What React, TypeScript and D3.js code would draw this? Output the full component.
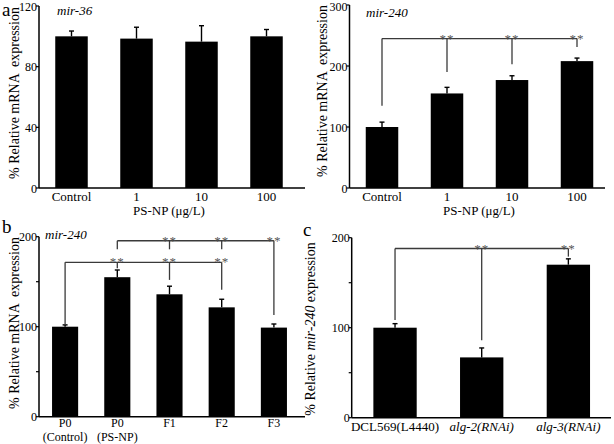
import React from "react";
import * as d3 from "d3";

// ---------- data ----------
const doseCategories = ["Control", "1", "10", "100"];
const mir36Values = [100, 98.5, 96.5, 100];
const mir36Errors = [3.5, 7.5, 10.5, 4.5];
const mir240DoseValues = [100, 155, 177, 208];
const mir240DoseErrors = [8, 10, 7, 5];

const generationCategories = [["P0", "(Control)"], ["P0", "(PS-NP)"], ["F1"], ["F2"], ["F3"]];
const mir240GenValues = [100, 155, 136, 121.5, 99];
const mir240GenErrors = [2, 8, 9, 9, 4];

const rnaiCategories = ["DCL569(L4440)", "alg-2(RNAi)", "alg-3(RNAi)"];
const rnaiItalic = [false, true, true];
const rnaiValues = [100, 67, 170];
const rnaiErrors = [4.5, 10.5, 6.5];

const ticksA1 = [0, 40, 80, 120];
const ticksA2 = [0, 100, 200, 300];
const ticksB = [0, 50, 100, 150, 200];
const tickLabelsB = [0, 100, 200];

// significance brackets: y level, drops (index, bottom value), star indices
const bracketsA2 = [
  { level: 245, drops: [[0, 135], [1, 190], [2, 203], [3, 231]], stars: [1, 2, 3] },
];
const bracketsB = [
  { level: 171.5, drops: [[0, 102], [1, 165], [2, 152], [3, 141]], stars: [1, 2, 3] },
  { level: 195.5, drops: [[1, 186], [2, 186], [3, 186], [4, 113]], stars: [2, 3, 4] },
];
const bracketsC = [
  { level: 188, drops: [[0, 108.5], [1, 86], [2, 179]], stars: [1, 2] },
];

const FONT = "Liberation Serif, Times New Roman, Times, serif";

type Bracket = { level: number; drops: number[][]; stars: number[] };

type PanelProps = {
  n: number;
  values: number[];
  errors: number[];
  xRange: [number, number];
  axisEnd: number;
  yRange: [number, number];
  yMax: number;
  ticks: number[];
  tickLabels: number[];
  brackets: Bracket[];
  renderXLabel: (i: number, cx: number, y0: number) => React.ReactNode;
};

function Panel(p: PanelProps) {
  const idx = d3.range(p.n).map(String);
  const x = d3.scaleBand().domain(idx).range(p.xRange).paddingInner(0.5).paddingOuter(0.25);
  const y = d3.scaleLinear().domain([0, p.yMax]).range(p.yRange);
  const x0 = p.xRange[0];
  const y0 = y(0);
  const cx = (i: number) => (x(String(i)) as number) + x.bandwidth() / 2;
  return (
    <g>
      {p.values.map((v, i) => (
        <rect key={"b" + i} x={x(String(i))} y={y(v)} width={x.bandwidth()} height={y0 - y(v)} fill="#000" />
      ))}
      {p.values.map((v, i) => (
        <g key={"e" + i} stroke="#000" strokeWidth={1.4}>
          <line x1={cx(i)} x2={cx(i)} y1={y(v)} y2={y(v + p.errors[i])} />
          <line x1={cx(i) - 2.5} x2={cx(i) + 2.5} y1={y(v + p.errors[i])} y2={y(v + p.errors[i])} />
        </g>
      ))}
      {p.brackets.map((b, k) => {
        const xs = b.drops.map((d) => cx(d[0]));
        return (
          <g key={"br" + k}>
            <line x1={d3.min(xs)} x2={d3.max(xs)} y1={y(b.level)} y2={y(b.level)} stroke="#3a3a3a" strokeWidth={1.3} />
            {b.drops.map((d, j) => (
              <line key={j} x1={cx(d[0])} x2={cx(d[0])} y1={y(b.level)} y2={y(d[1])} stroke="#3a3a3a" strokeWidth={1.3} />
            ))}
            {b.stars.map((s) => (
              <text key={"s" + s} x={cx(s)} y={y(b.level) + 4} textAnchor="middle" fontSize={13} fill="#555" style={{ fontFamily: FONT }} letterSpacing={1}>
                **
              </text>
            ))}
          </g>
        );
      })}
      <line x1={x0} x2={x0} y1={y0} y2={y(p.yMax)} stroke="#000" strokeWidth={1.5} />
      <line x1={x0} x2={p.axisEnd} y1={y0} y2={y0} stroke="#000" strokeWidth={1.5} />
      {p.ticks.map((t) => (
        <line key={"t" + t} x1={x0 - 3} x2={x0} y1={y(t)} y2={y(t)} stroke="#000" strokeWidth={1.2} />
      ))}
      {p.tickLabels.map((t) => (
        <text key={"tl" + t} x={x0 - 2} y={Math.max(y(t) + 4.5, 11)} textAnchor="end" fontSize={12} style={{ fontFamily: FONT }}>
          {t}
        </text>
      ))}
      {idx.map((_, i) => p.renderXLabel(i, cx(i), y0))}
    </g>
  );
}

function YLabel({ x, y, children }: { x: number; y: number; children: React.ReactNode }) {
  return (
    <text transform={`translate(${x},${y}) rotate(-90)`} textAnchor="middle" fontSize={14} style={{ fontFamily: FONT, whiteSpace: "pre" }}>
      {children}
    </text>
  );
}

const T = (props: any) => <text {...props} style={{ fontFamily: FONT }} />;

export default function App() {
  return (
    <svg width={614} height={444} style={{ position: "absolute", left: 0, top: 0, background: "#fff", fontFamily: FONT }}>
      <rect width={614} height={444} fill="#fff" />
      {/* Panel a left */}
      <T x={2} y={16} fontSize={19}>a</T>
      <T x={57} y={15} fontSize={13} fontStyle="italic">mir-36</T>
      <YLabel x={19} y={93}>% Relative mRNA  expression</YLabel>
      <Panel
        n={doseCategories.length}
        values={mir36Values}
        errors={mir36Errors}
        xRange={[39, 299]}
        axisEnd={305}
        yRange={[188, 6]}
        yMax={120}
        ticks={ticksA1}
        tickLabels={ticksA1}
        brackets={[]}
        renderXLabel={(i, cx, y0) => (
          <T key={"xl" + i} x={cx} y={y0 + 13} textAnchor="middle" fontSize={13}>
            {doseCategories[i]}
          </T>
        )}
      />
      <T x={169} y={215} textAnchor="middle" fontSize={13}>PS-NP (μg/L)</T>

      {/* Panel a right */}
      <T x={366} y={17} fontSize={13} fontStyle="italic">mir-240</T>
      <YLabel x={327} y={91}>% Relative mRNA  expression</YLabel>
      <Panel
        n={doseCategories.length}
        values={mir240DoseValues}
        errors={mir240DoseErrors}
        xRange={[349.5, 609.5]}
        axisEnd={605}
        yRange={[188, 5]}
        yMax={300}
        ticks={ticksA2}
        tickLabels={ticksA2}
        brackets={bracketsA2}
        renderXLabel={(i, cx, y0) => (
          <T key={"xl" + i} x={cx} y={y0 + 13} textAnchor="middle" fontSize={13}>
            {doseCategories[i]}
          </T>
        )}
      />
      <T x={479} y={215} textAnchor="middle" fontSize={13}>PS-NP (μg/L)</T>

      {/* Panel b */}
      <T x={2} y={233} fontSize={19}>b</T>
      <T x={45} y={239} fontSize={13} fontStyle="italic">mir-240</T>
      <YLabel x={19} y={323}>% Relative mRNA  expression</YLabel>
      <Panel
        n={generationCategories.length}
        values={mir240GenValues}
        errors={mir240GenErrors}
        xRange={[39, 300]}
        axisEnd={305}
        yRange={[416.7, 236.7]}
        yMax={200}
        ticks={ticksB}
        tickLabels={tickLabelsB}
        brackets={bracketsB}
        renderXLabel={(i, cx, y0) => (
          <g key={"xl" + i}>
            {generationCategories[i].map((s, j) => (
              <T key={j} x={cx} y={y0 + 10.5 + j * 13.3} textAnchor="middle" fontSize={12}>
                {s}
              </T>
            ))}
          </g>
        )}
      />

      {/* Panel c */}
      <T x={303} y={236} fontSize={19}>c</T>
      <YLabel x={315} y={329}>
        % Relative <tspan fontStyle="italic">mir-240</tspan> expression
      </YLabel>
      <Panel
        n={rnaiCategories.length}
        values={rnaiValues}
        errors={rnaiErrors}
        xRange={[351.7, 611.7]}
        axisEnd={611}
        yRange={[417.7, 237.7]}
        yMax={200}
        ticks={ticksB}
        tickLabels={tickLabelsB}
        brackets={bracketsC}
        renderXLabel={(i, cx, y0) => (
          <T key={"xl" + i} x={cx} y={y0 + 13} textAnchor="middle" fontSize={13} fontStyle={rnaiItalic[i] ? "italic" : "normal"}>
            {rnaiCategories[i]}
          </T>
        )}
      />
    </svg>
  );
}
